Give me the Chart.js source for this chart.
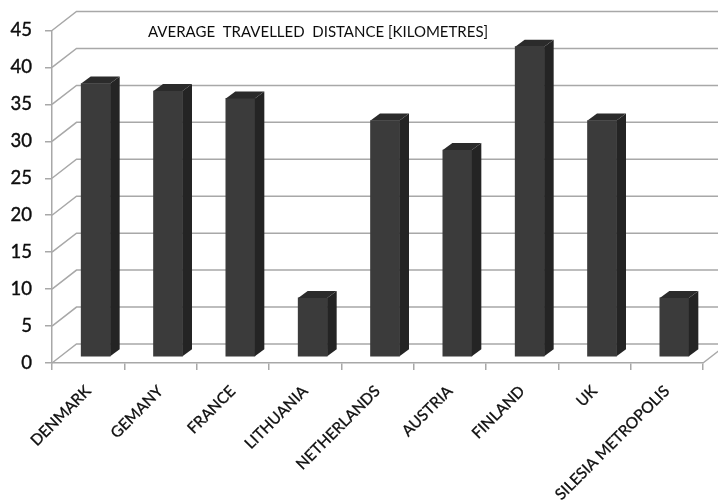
<!DOCTYPE html>
<html>
<head>
<meta charset="utf-8">
<title>Average travelled distance</title>
<script src="https://cdn.jsdelivr.net/npm/chart.js@4/dist/chart.umd.min.js"></script>
<style>
  html, body { margin: 0; padding: 0; background: #fff; }
  canvas { display: block; }
</style>
</head>
<body>
<canvas id="distanceChart" width="718" height="501"></canvas>
<script>
const countries = ['DENMARK', 'GEMANY', 'FRANCE', 'LITHUANIA', 'NETHERLANDS', 'AUSTRIA', 'FINLAND', 'UK', 'SILESIA METROPOLIS'];
const distances = [37, 36, 35, 8, 32, 28, 42, 32, 8];
const chartTitle = 'AVERAGE  TRAVELLED  DISTANCE [KILOMETRES]';

const gridColor = '#a8a8a8';
const textColor = '#0d0d0d';
const fontFamily = 'Lato, "Open Sans", sans-serif';

// Box depth and wall depth of the fake 3D look
const wall = { dx: 24.5, dy: -19 };
const barShift = { dx: 7.5, dy: -6 };
const barDepth = { dx: 9.5, dy: -7 };

// Back wall lines, side wall slants and the floor edge
const wallPlugin = {
    id: 'wall',
    beforeDatasetsDraw(chart) {
        const ctx = chart.ctx;
        const yScale = chart.scales.y;
        const area = chart.chartArea;

        ctx.save();
        ctx.strokeStyle = gridColor;
        ctx.lineWidth = 1.5;
        yScale.ticks.forEach(tick => {
            const y = yScale.getPixelForValue(tick.value);
            ctx.beginPath();
            ctx.moveTo(area.left, y);
            ctx.lineTo(area.left + wall.dx, y + wall.dy);
            ctx.lineTo(area.right + wall.dx, y + wall.dy);
            ctx.stroke();
        });
        ctx.beginPath();
        ctx.moveTo(area.right, area.bottom);
        ctx.lineTo(area.right + wall.dx, area.bottom + wall.dy);
        ctx.stroke();
        ctx.restore();

        // bars stand in the middle of the floor
        ctx.save();
        ctx.translate(barShift.dx, barShift.dy);
    },
    afterDatasetsDraw(chart) {
        const ctx = chart.ctx;
        chart.getDatasetMeta(0).data.forEach(bar => {
            const left = bar.x - bar.width / 2;
            const right = bar.x + bar.width / 2;

            // side face
            ctx.fillStyle = '#242424';
            ctx.beginPath();
            ctx.moveTo(right, bar.y);
            ctx.lineTo(right + barDepth.dx, bar.y + barDepth.dy);
            ctx.lineTo(right + barDepth.dx, bar.base + barDepth.dy);
            ctx.lineTo(right, bar.base);
            ctx.closePath();
            ctx.fill();

            // top face
            ctx.fillStyle = '#2b2b2b';
            ctx.beginPath();
            ctx.moveTo(left, bar.y);
            ctx.lineTo(left + barDepth.dx, bar.y + barDepth.dy);
            ctx.lineTo(right + barDepth.dx, bar.y + barDepth.dy);
            ctx.lineTo(right, bar.y);
            ctx.closePath();
            ctx.fill();
        });
        ctx.restore();
    }
};

const titlePlugin = {
    id: 'wallTitle',
    afterDraw(chart) {
        const ctx = chart.ctx;
        ctx.save();
        ctx.font = '15px ' + fontFamily;
        ctx.fillStyle = textColor;
        ctx.textAlign = 'left';
        ctx.textBaseline = 'middle';
        ctx.fillText(chartTitle, 148, 32);
        ctx.restore();
    }
};

new Chart(document.getElementById('distanceChart'), {
    type: 'bar',
    data: {
        labels: countries,
        datasets: [{
            data: distances,
            backgroundColor: '#3b3b3b',
            barThickness: 29
        }]
    },
    plugins: [wallPlugin, titlePlugin],
    options: {
        responsive: false,
        animation: false,
        layout: { padding: { top: 30.5, right: 15, bottom: 0, left: 0 } },
        plugins: {
            legend: { display: false },
            tooltip: { enabled: false }
        },
        scales: {
            x: {
                afterFit(scale) { scale.height = 138; },
                border: { color: gridColor, width: 1.5 },
                grid: { offset: true, drawOnChartArea: false, color: gridColor, lineWidth: 1.5, tickLength: 7 },
                ticks: {
                    color: textColor,
                    textStrokeColor: textColor,
                    textStrokeWidth: 0.3,
                    font: { family: fontFamily, size: 15.5 },
                    minRotation: 45,
                    maxRotation: 45,
                    autoSkip: false,
                    padding: 12
                }
            },
            y: {
                min: 0,
                max: 45,
                afterFit(scale) { scale.width = 52; },
                border: { color: gridColor, width: 1.5 },
                grid: { drawOnChartArea: false, color: gridColor, lineWidth: 1.5, tickLength: 7 },
                ticks: {
                    stepSize: 5,
                    color: textColor,
                    textStrokeColor: textColor,
                    textStrokeWidth: 0.4,
                    font: { family: fontFamily, size: 18.5 },
                    padding: 13
                }
            }
        }
    }
});
</script>
</body>
</html>
